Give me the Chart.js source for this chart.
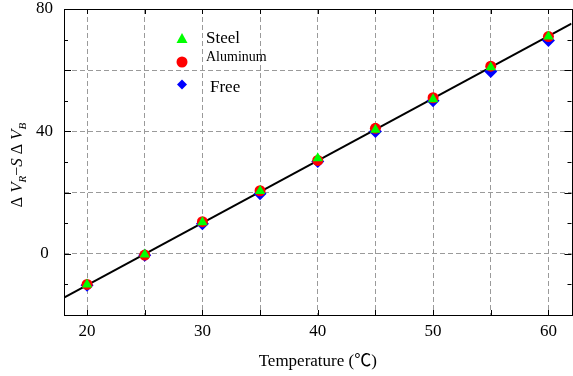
<!DOCTYPE html>
<html>
<head>
<meta charset="utf-8">
<script src="https://cdn.jsdelivr.net/npm/chart.js@4"></script>
<style>
  html, body { margin: 0; padding: 0; overflow: hidden; background: #fff; }
  #wrap { width: 578px; height: 376px; }
</style>
</head>
<body>
<div id="wrap"><canvas id="c" width="578" height="376"></canvas></div>
<script>
// ---- data ----
const temperatures = [20, 25, 30, 35, 40, 45, 50, 55, 60];
const steelValues    = [-10, -0.2, 10.3, 20.5, 31.2, 40.5, 50.5, 61.0, 71.0];
const aluminumValues = [-10, -0.4, 10.5, 20.6, 30.5, 41.0, 51.0, 61.3, 71.0];
const freeValues     = [-10.3, -0.5, 9.8, 19.6, 30.2, 40.0, 50.0, 59.6, 69.7];
const fitX = [18, 62];
const fitY = [-14.3, 75.2];
const xTickLabels = [20, 30, 40, 50, 60];
const yTickLabels = [0, 40, 80];
const xGridValues = [20, 25, 30, 35, 40, 45, 50, 55, 60];
const yGridValues = [-20, -10, 0, 10, 20, 30, 40, 50, 60, 70, 80];
const seriesNames = ['Steel', 'Aluminum', 'Free'];

const toXY = (xs, ys) => xs.map((x, i) => ({ x: x, y: ys[i] }));
const FONT = "'Liberation Serif', 'Times New Roman', serif";

// custom frame, inward ticks, y title and in-plot legend
const decor = {
  id: 'decor',
  afterDraw(chart) {
    const ctx = chart.ctx;
    const a = chart.chartArea;
    const xs = chart.scales.x, ys = chart.scales.y;
    ctx.save();
    ctx.strokeStyle = '#000';
    ctx.lineWidth = 1;
    ctx.strokeRect(Math.round(a.left) + 0.5, Math.round(a.top) + 0.5,
                   Math.round(a.right - a.left), Math.round(a.bottom - a.top));
    ctx.beginPath();
    xGridValues.forEach(v => {
      const px = Math.round(xs.getPixelForValue(v)) + 0.5;
      ctx.moveTo(px, a.top); ctx.lineTo(px, a.top + 5);
      ctx.moveTo(px, a.bottom); ctx.lineTo(px, a.bottom - 5);
    });
    yGridValues.slice(1, -1).forEach(v => {
      const py = Math.round(ys.getPixelForValue(v)) + 0.5;
      const len = (v % 20 === 0) ? 7 : 4;
      ctx.moveTo(a.left, py); ctx.lineTo(a.left + len, py);
      ctx.moveTo(a.right, py); ctx.lineTo(a.right - len, py);
    });
    ctx.stroke();

    // y axis title: Δ V_R − S Δ V_B
    const parts = [
      { t: 'Δ ', f: '16px ' + FONT, dy: 0 },
      { t: 'V', f: 'italic 17px ' + FONT, dy: 0 },
      { t: 'R', f: 'italic 11px ' + FONT, dy: 4 },
      { t: '−', f: '16px ' + FONT, dy: 0 },
      { t: 'S', f: 'italic 17px ' + FONT, dy: 0 },
      { t: ' Δ ', f: '16px ' + FONT, dy: 0 },
      { t: 'V', f: 'italic 17px ' + FONT, dy: 0 },
      { t: 'B', f: 'italic 11px ' + FONT, dy: 4 }
    ];
    let total = 0;
    parts.forEach(p => { ctx.font = p.f; p.w = ctx.measureText(p.t).width; total += p.w; });
    ctx.translate(22, (a.top + a.bottom) / 2 + 3);
    ctx.rotate(-Math.PI / 2);
    ctx.fillStyle = '#000';
    ctx.textBaseline = 'alphabetic';
    ctx.textAlign = 'left';
    let cx = -total / 2;
    parts.forEach(p => { ctx.font = p.f; ctx.fillText(p.t, cx, p.dy); cx += p.w; });
    ctx.restore();

    // legend
    ctx.save();
    ctx.fillStyle = '#00ff00';
    ctx.beginPath();
    ctx.moveTo(182, 33); ctx.lineTo(187.5, 43); ctx.lineTo(176.5, 43); ctx.closePath(); ctx.fill();
    ctx.fillStyle = '#ff0000';
    ctx.beginPath(); ctx.arc(182, 62, 5.5, 0, Math.PI * 2); ctx.fill();
    ctx.fillStyle = '#0000ff';
    ctx.beginPath();
    ctx.moveTo(182, 79.5); ctx.lineTo(187, 84.5); ctx.lineTo(182, 89.5); ctx.lineTo(177, 84.5); ctx.closePath(); ctx.fill();
    ctx.fillStyle = '#000';
    ctx.textBaseline = 'middle';
    ctx.textAlign = 'left';
    ctx.font = '17px ' + FONT; ctx.fillText(seriesNames[0], 206, 39);
    ctx.font = '14px ' + FONT; ctx.fillText(seriesNames[1], 206, 57);
    ctx.font = '17px ' + FONT; ctx.fillText(seriesNames[2], 210, 88);
    ctx.restore();
  }
};

new Chart(document.getElementById('c'), {
  type: 'scatter',
  data: {
    datasets: [
      { label: seriesNames[0], data: toXY(temperatures, steelValues), pointStyle: 'triangle',
        pointRadius: 6, backgroundColor: '#00ff00', borderColor: '#00ff00', borderWidth: 0 },
      { label: seriesNames[1], data: toXY(temperatures, aluminumValues), pointStyle: 'circle',
        pointRadius: 5.5, backgroundColor: '#ff0000', borderColor: '#ff0000', borderWidth: 0 },
      { label: seriesNames[2], data: toXY(temperatures, freeValues), pointStyle: 'rectRot',
        pointRadius: 6.5, backgroundColor: '#0000ff', borderColor: '#0000ff', borderWidth: 0 },
      { label: 'fit', data: toXY(fitX, fitY), showLine: true, pointRadius: 0,
        borderColor: '#000', borderWidth: 2, backgroundColor: '#000' }
    ]
  },
  options: {
    responsive: false,
    animation: false,
    events: [],
    layout: { padding: { left: 0, top: 9, right: 3, bottom: 0 } },
    plugins: { legend: { display: false }, tooltip: { enabled: false } },
    scales: {
      x: {
        type: 'linear', min: 18, max: 62,
        afterBuildTicks(s) { s.ticks = xGridValues.map(v => ({ value: v })); },
        afterFit(s) { s.height = 61; s.paddingLeft = 0; s.paddingRight = 0; },
        ticks: {
          padding: 6, color: '#000', autoSkip: false, maxRotation: 0,
          font: { family: FONT, size: 17 },
          callback: v => xTickLabels.includes(v) ? String(v) : ''
        },
        grid: {
          drawTicks: false,
          color: '#9a9a9a',
          lineWidth: 1
        },
        border: { display: false, dash: [5, 3] },
        title: {
          display: true, text: 'Temperature (\u2103)', color: '#000',
          font: { family: "'Liberation Serif', 'Noto Sans CJK SC', serif", size: 17 }, padding: { top: 0, bottom: 4 }
        }
      },
      y: {
        type: 'linear', min: -20, max: 80,
        afterBuildTicks(s) { s.ticks = yGridValues.map(v => ({ value: v })); },
        afterFit(s) { s.width = 64; s.paddingTop = 0; s.paddingBottom = 0; },
        ticks: {
          padding: 11, color: '#000', crossAlign: 'center', autoSkip: false,
          font: { family: FONT, size: 17 },
          callback: v => yTickLabels.includes(v) ? String(v) : ''
        },
        grid: {
          drawTicks: false,
          color: c => (c.tick && c.tick.value % 20 === 0 && c.tick.value > -20 && c.tick.value < 80) ? '#9a9a9a' : 'rgba(0,0,0,0)',
          lineWidth: 1
        },
        border: { display: false, dash: [5, 3] }
      }
    }
  },
  plugins: [decor]
});
</script>
</body>
</html>
